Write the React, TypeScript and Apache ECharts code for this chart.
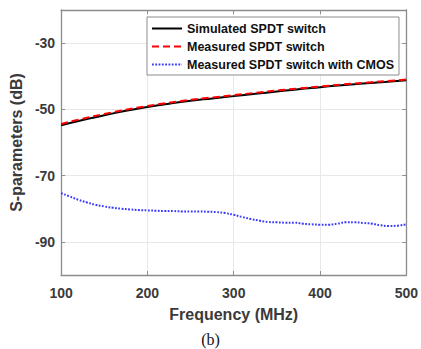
import React, { useEffect, useRef } from "react";
import * as echarts from "echarts";

const simFreq = [100, 125, 150, 175, 200, 225, 250, 275, 300, 325, 350, 375, 400, 425, 450, 475, 500];
const simulated = [-54.8, -53.2, -51.8, -50.4, -49.3, -48.3, -47.4, -46.7, -46.0, -45.3, -44.6, -43.9, -43.3, -42.7, -42.2, -41.7, -41.2];
const measured = [-54.4, -52.8, -51.4, -50.1, -49.0, -48.0, -47.1, -46.4, -45.7, -45.0, -44.3, -43.7, -43.1, -42.5, -42.0, -41.5, -41.0];

const cmosFreq = [100, 110, 120, 130, 140, 150, 160, 170, 180, 190, 200, 210, 220, 230, 240, 250, 260, 270, 280, 290, 300, 310, 320, 330, 340, 350, 360, 370, 380, 390, 400, 410, 420, 430, 440, 450, 460, 470, 480, 490, 500];
const cmos = [-75.3, -76.3, -77.3, -78.1, -78.8, -79.3, -79.7, -80.0, -80.2, -80.4, -80.5, -80.6, -80.7, -80.7, -80.8, -80.8, -80.8, -80.9, -81.0, -81.3, -81.8, -82.5, -83.1, -83.6, -84.0, -84.1, -84.2, -84.2, -84.5, -84.7, -84.8, -84.8, -84.5, -84.1, -84.1, -84.3, -84.5, -85.0, -85.2, -85.1, -84.7];

const yTicks = [-90, -70, -50, -30];

const seriesNames = ["Simulated SPDT switch", "Measured SPDT switch", "Measured SPDT switch with CMOS"];

const FONT = "'Liberation Sans', Arial, sans-serif";
const TXT = "#3a3a3a";
const AX = "#8c8c8c";

export default function App() {
  const ref = useRef<HTMLDivElement>(null);
  useEffect(() => {
    if (!ref.current) return;
    const chart = echarts.init(ref.current, undefined, { renderer: "svg" });
    const zip = (xs: number[], ys: number[]) => xs.map((x, i) => [x, ys[i]]);
    chart.setOption({
      animation: false,
      backgroundColor: "#ffffff",
      grid: { left: 61, right: 12, top: 10, bottom: 74 },
      legend: {
        orient: "vertical",
        left: 147,
        top: 17,
        backgroundColor: "#ffffff",
        borderColor: "#8c8c8c",
        borderWidth: 1,
        borderRadius: 0,
        padding: [5, 5, 4, 4],
        itemWidth: 30,
        itemHeight: 12,
        itemGap: 5,
        itemStyle: { opacity: 0 },
        lineStyle: { opacity: 1 },
        textStyle: { fontFamily: FONT, fontWeight: "bold", fontSize: 12.5, color: "#111" },
        data: seriesNames,
      },
      xAxis: [
        {
          type: "value",
          min: 100,
          max: 500,
          interval: 100,
          name: "Frequency (MHz)",
          nameLocation: "middle",
          nameGap: 31,
          nameTextStyle: { fontFamily: FONT, fontWeight: "bold", fontSize: 16, color: TXT },
          axisLine: { show: true, lineStyle: { color: AX, width: 1.3 } },
          axisTick: { show: true, inside: true, length: 4, lineStyle: { color: AX } },
          axisLabel: { fontFamily: FONT, fontWeight: "bold", fontSize: 14, color: TXT, margin: 11 },
          splitLine: { show: true, lineStyle: { color: "#e8e8e8", width: 1 } },
        },
        {
          type: "value",
          position: "top",
          min: 100,
          max: 500,
          interval: 100,
          axisLine: { show: true, lineStyle: { color: AX, width: 1.3 } },
          axisTick: { show: true, inside: true, length: 4, lineStyle: { color: AX } },
          axisLabel: { show: false },
          splitLine: { show: false },
        },
      ],
      yAxis: [
        {
          type: "value",
          min: -100,
          max: -20,
          interval: 10,
          name: "S-parameters (dB)",
          nameLocation: "middle",
          nameGap: 31,
          nameTextStyle: { fontFamily: FONT, fontWeight: "bold", fontSize: 16, color: TXT },
          axisLine: { show: true, lineStyle: { color: AX, width: 1.3 } },
          axisTick: { show: true, inside: true, length: 4, lineStyle: { color: AX }, customValues: yTicks },
          axisLabel: { fontFamily: FONT, fontWeight: "bold", fontSize: 14, color: TXT, margin: 6, customValues: yTicks },
          splitLine: { show: true, lineStyle: { color: "#e8e8e8", width: 1 } },
        },
        {
          type: "value",
          position: "right",
          min: -100,
          max: -20,
          interval: 10,
          axisLine: { show: true, lineStyle: { color: AX, width: 1.3 } },
          axisTick: { show: true, inside: true, length: 4, lineStyle: { color: AX }, customValues: yTicks },
          axisLabel: { show: false },
          splitLine: { show: false },
        },
      ],
      series: [
        {
          name: seriesNames[0],
          type: "line",
          data: zip(simFreq, simulated),
          smooth: true,
          symbol: "none",
          lineStyle: { color: "#000000", width: 2 },
          itemStyle: { color: "#000000" },
          z: 3,
        },
        {
          name: seriesNames[1],
          type: "line",
          data: zip(simFreq, measured),
          smooth: true,
          symbol: "none",
          lineStyle: { color: "#ff0000", width: 2, type: [7, 4] },
          itemStyle: { color: "#ff0000" },
          z: 4,
        },
        {
          name: seriesNames[2],
          type: "line",
          data: zip(cmosFreq, cmos),
          smooth: true,
          symbol: "none",
          lineStyle: { color: "#3a3aff", width: 2, type: [1.8, 1.5] },
          itemStyle: { color: "#3a3aff" },
          z: 5,
        },
      ],
      graphic: [
        {
          type: "text",
          left: "center",
          top: 331,
          style: { text: "(b)", font: "16px 'Liberation Serif', 'Times New Roman', serif", fill: "#111" },
        },
      ],
    });
    return () => chart.dispose();
  }, []);
  return <div ref={ref} style={{ width: 421, height: 349, position: "absolute", left: 0, top: 0 }} />;
}
